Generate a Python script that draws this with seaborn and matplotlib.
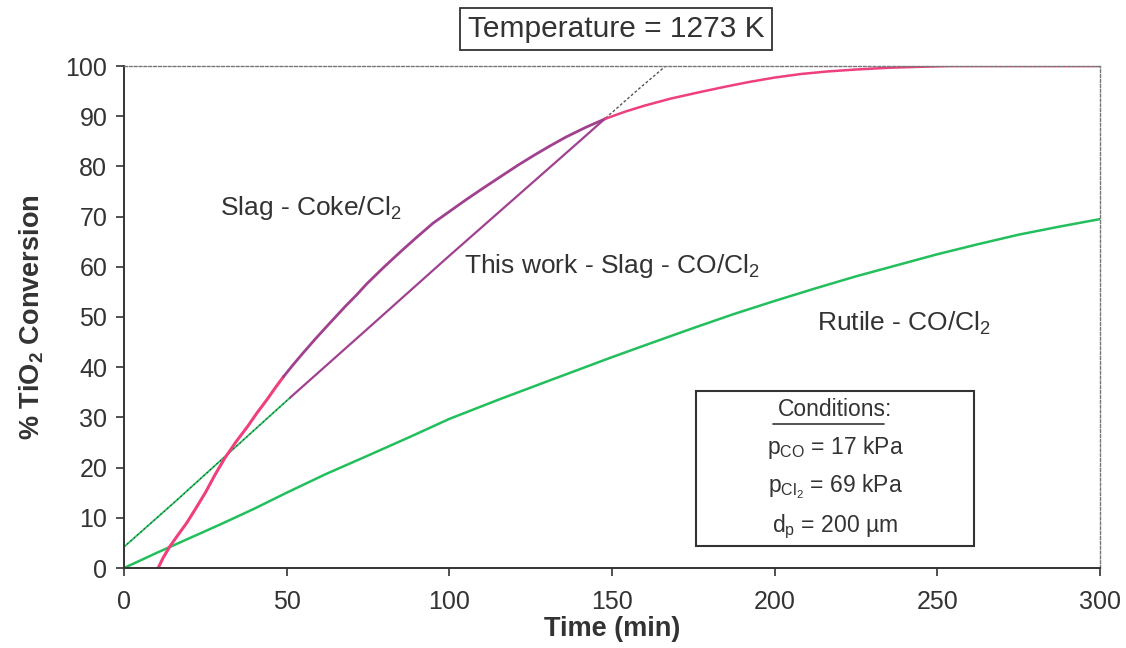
import numpy as np
import pandas as pd
import matplotlib
matplotlib.use("Agg")
import matplotlib.pyplot as plt
import seaborn as sns
from matplotlib.patches import Rectangle
from matplotlib.lines import Line2D

# Conversion curves, % TiO2 vs time (min)
coke_time = [10.5, 12, 14, 16.5, 19.3, 22, 25, 28, 31, 34.5, 38, 41, 43.9, 46.5, 49,
             52, 55, 58.5, 62, 65, 68, 71.5, 74.6, 80, 85, 90, 95, 100, 105, 110,
             115.6, 121, 126, 131, 136, 142, 148, 154, 160, 168, 177, 185, 192, 200,
             208, 216, 225, 235, 245, 254, 270, 300]
coke_conv = [0, 2, 4.2, 6.5, 9, 11.8, 15, 18.6, 21.9, 25.2, 28.2, 31, 33.5, 35.9, 38.1,
             40.5, 42.8, 45.4, 47.9, 50, 52.1, 54.4, 56.6, 60, 63, 65.9, 68.7, 71,
             73.3, 75.5, 77.9, 80.2, 82.2, 84.1, 85.9, 87.8, 89.5, 90.9, 92.1, 93.5, 94.8,
             95.9, 96.8, 97.7, 98.4, 98.9, 99.3, 99.65, 99.85, 100, 100, 100]

co_slag_time = [0, 15, 29.5, 51, 74.6, 100, 120, 140, 148, 158, 166.5]
co_slag_conv = [4.2, 12.8, 21.3, 33.9, 47.5, 62.2, 73.6, 85.0, 89.6, 95.3, 100]

rutile_time = [0, 10, 20, 30, 40, 50, 62, 75, 87.5, 100, 115, 131, 150, 162, 175,
               187.5, 200, 212.5, 225, 237.5, 250, 262.5, 275, 287.5, 300]
rutile_conv = [0, 3, 5.9, 8.8, 11.8, 15, 18.7, 22.4, 26, 29.7, 33.5, 37.4, 42, 44.8,
               47.8, 50.6, 53.2, 55.7, 58.1, 60.3, 62.5, 64.5, 66.4, 68, 69.5]

x_ticks = [0, 50, 100, 150, 200, 250, 300]
y_ticks = [0, 10, 20, 30, 40, 50, 60, 70, 80, 90, 100]

sns.set_theme(style="ticks")
plt.rcParams["font.family"] = ["Liberation Sans", "DejaVu Sans"]
plt.rcParams["mathtext.fontset"] = "custom"
plt.rcParams["mathtext.rm"] = "Liberation Sans"
plt.rcParams["mathtext.it"] = "Liberation Sans:italic"
plt.rcParams["mathtext.bf"] = "Liberation Sans:bold"

PINK = "#ef3f7e"
PURPLE = "#a0418f"
GREEN = "#22bf5c"
TEXT = "#333333"

fig = plt.figure(figsize=(11.26, 6.48), dpi=100)
ax = fig.add_axes([124 / 1126, 1 - 568 / 648, 976 / 1126, 502 / 648])


def draw_segment(t, v, lo, hi, **kw):
    t = np.asarray(t, float)
    v = np.asarray(v, float)
    m = (t >= lo) & (t <= hi)
    df = pd.DataFrame({"t": t[m], "v": v[m]})
    sns.lineplot(data=df, x="t", y="v", ax=ax, sort=False, estimator=None,
                 legend=False, **kw)


# Rutile - CO/Cl2
draw_segment(rutile_time, rutile_conv, 0, 300, color=GREEN, linewidth=1.8)

# This work - slag - CO/Cl2 (fitted line shown in several styles)
draw_segment(co_slag_time, co_slag_conv, 0, 51, color=GREEN, linewidth=1.3)
draw_segment(co_slag_time, co_slag_conv, 0, 51, color="#333333", linewidth=0.8,
             linestyle=(0, (1, 3)))
draw_segment(co_slag_time, co_slag_conv, 51, 148, color=PURPLE, linewidth=1.6)
draw_segment(co_slag_time, co_slag_conv, 148, 170, color="#555555", linewidth=1.0,
             linestyle=(0, (2, 1.5)))

# Slag - Coke/Cl2
draw_segment(coke_time, coke_conv, 0, 49, color=PINK, linewidth=2.2)
draw_segment(coke_time, coke_conv, 49, 148, color=PURPLE, linewidth=2.0)
draw_segment(coke_time, coke_conv, 148, 300, color=PINK, linewidth=1.8)

ax.set_xlim(0, 300)
ax.set_ylim(0, 100)
ax.set_xticks(x_ticks)
ax.set_yticks(y_ticks)
ax.tick_params(axis="both", direction="out", length=6, width=1.2, colors="#333333",
               labelsize=18, labelcolor=TEXT, pad=6)
ax.tick_params(axis="x", pad=10)

for side in ("left", "bottom"):
    ax.spines[side].set_color("#333333")
    ax.spines[side].set_linewidth(1.4)
for side in ("top", "right"):
    ax.spines[side].set_visible(True)
    ax.spines[side].set_color("#777777")
    ax.spines[side].set_linewidth(1.0)
    ax.spines[side].set_linestyle((0, (2, 1.5)))

ax.set_xlabel("Time (min)", fontsize=19.5, fontweight="bold", color=TEXT, labelpad=1)
ax.set_ylabel(r"% TiO$_\mathbf{2}$ Conversion", fontsize=19.5, fontweight="bold",
              color=TEXT, labelpad=14)

# Curve labels
ax.text(29.5, 71.7, r"Slag - Coke/Cl$_2$", fontsize=19, color=TEXT, va="center", ha="left")
ax.text(104.5, 60.2, r"This work - Slag - CO/Cl$_2$", fontsize=19, color=TEXT,
        va="center", ha="left")
ax.text(213, 48.8, r"Rutile - CO/Cl$_2$", fontsize=19, color=TEXT, va="center", ha="left")

# Title box
fig.text(616 / 1126, 1 - 29 / 648, "Temperature = 1273 K", fontsize=21.5, color=TEXT,
         ha="center", va="center",
         bbox=dict(boxstyle="square,pad=0.25", facecolor="white", edgecolor="#333333",
                   linewidth=1.3))

# Conditions box
ax.add_patch(Rectangle((0.586, 0.0438), 0.285, 0.309, transform=ax.transAxes,
                       facecolor="white", edgecolor="#333333", linewidth=1.5, zorder=5))
cx = 0.7285
ax.text(cx, 0.315, "Conditions:", transform=ax.transAxes, fontsize=16.5, color=TEXT,
        ha="center", va="center", zorder=6)
ax.add_line(Line2D([0.665, 0.779], [0.287, 0.287], transform=ax.transAxes,
                   color=TEXT, linewidth=1.2, zorder=6))
ax.text(cx, 0.241, r"p$_{\mathrm{CO}}$ = 17 kPa", transform=ax.transAxes, fontsize=16.5,
        color=TEXT, ha="center", va="center", zorder=6)
ax.text(cx, 0.161, r"p$_{\mathrm{Cl_2}}$ = 69 kPa", transform=ax.transAxes, fontsize=16.5,
        color=TEXT, ha="center", va="center", zorder=6)
ax.text(cx, 0.0817, "d$_\\mathrm{p}$ = 200 \u00b5m", transform=ax.transAxes, fontsize=16.5,
        color=TEXT, ha="center", va="center", zorder=6)

fig.savefig("out.png", dpi=100, facecolor="white")
